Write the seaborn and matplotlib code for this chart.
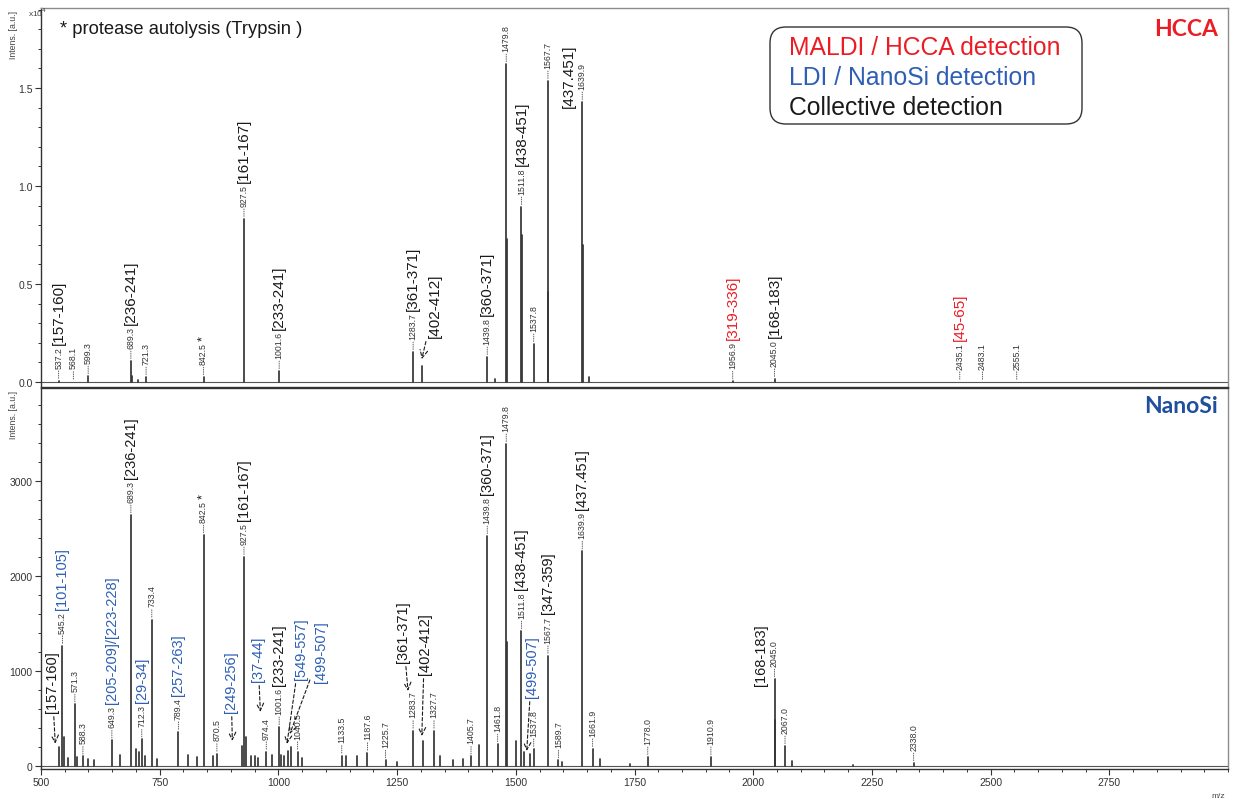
import numpy as np
import pandas as pd
import matplotlib.pyplot as plt
import seaborn as sns
from matplotlib import font_manager
from matplotlib.patches import FancyBboxPatch
from matplotlib.transforms import IdentityTransform
from matplotlib.ticker import MultipleLocator

# --- peak lists (m/z, intensity) ---
hcca_mz = [537.2, 568.1, 599.3, 689.3, 692.0, 705.0, 721.3, 842.5, 927.5, 1001.6,
           1283.7, 1302.0, 1439.8, 1456.0, 1479.8, 1480.8, 1511.8, 1512.8, 1537.8,
           1567.7, 1568.7, 1639.9, 1640.9, 1654.0, 1956.9, 2045.0, 2435.1, 2483.1, 2555.1]
hcca_int = [60, 25, 300, 1070, 300, 120, 250, 250, 8320, 560,
            1530, 820, 1275, 150, 16220, 7300, 8930, 7500, 1940,
            15360, 4600, 14290, 7000, 255, 40, 160, 15, 15, 15]

nano_mz = [538.0, 545.2, 549.0, 556.0, 571.3, 575.0, 588.3, 600.0, 612.0, 649.3, 666.0,
           689.3, 701.0, 706.0, 712.3, 718.0, 733.4, 745.0, 789.4, 810.0, 828.0, 842.5,
           862.0, 870.5, 923.0, 927.5, 931.0, 943.0, 950.0, 958.0, 974.4, 986.0, 1001.6,
           1006.0, 1012.0, 1020.0, 1026.0, 1040.5, 1050.0, 1133.5, 1142.0, 1165.0, 1187.6,
           1225.7, 1250.0, 1283.7, 1304.0, 1327.7, 1340.0, 1367.0, 1389.0, 1405.7, 1422.0,
           1439.8, 1461.8, 1479.8, 1480.8, 1499.4, 1511.8, 1517.0, 1529.5, 1537.8, 1567.7,
           1589.7, 1597.0, 1639.9, 1661.9, 1677.0, 1740.0, 1778.0, 1910.9, 2045.0, 2046.0,
           2067.0, 2082.0, 2210.0, 2338.0]
nano_int = [200, 1266, 300, 80, 650, 90, 100, 70, 60, 270, 120,
            2640, 180, 150, 280, 110, 1540, 70, 360, 120, 90, 2430,
            100, 130, 210, 2200, 300, 110, 100, 80, 150, 120, 410,
            120, 100, 160, 200, 150, 80, 110, 100, 110, 140,
            60, 40, 372, 266, 372, 108, 60, 70, 100, 220,
            2420, 230, 3390, 1300, 266, 1420, 150, 130, 180, 1160,
            60, 40, 2260, 180, 70, 20, 95, 95, 915, 480,
            210, 50, 10, 30]

# labelled peaks (small rotated m/z labels)
hcca_marked = [537.2, 568.1, 599.3, 689.3, 721.3, 842.5, 927.5, 1001.6, 1283.7, 1439.8,
               1479.8, 1511.8, 1537.8, 1567.7, 1639.9, 1956.9, 2045.0, 2435.1, 2483.1, 2555.1]
nano_marked = [545.2, 571.3, 588.3, 649.3, 689.3, 712.3, 733.4, 789.4, 842.5, 870.5, 927.5,
               974.4, 1001.6, 1040.5, 1133.5, 1187.6, 1225.7, 1283.7, 1327.7, 1405.7, 1439.8,
               1461.8, 1479.8, 1511.8, 1537.8, 1567.7, 1589.7, 1639.9, 1661.9, 1778.0, 1910.9,
               2045.0, 2067.0, 2338.0]
nano_mark_h = {974.4: 150, 1040.5: 150, 1133.5: 110, 1187.6: 140, 1225.7: 60, 1405.7: 100,
               1589.7: 60, 1778.0: 95, 1910.9: 95, 2338.0: 30, 870.5: 130, 588.3: 100}

RED = '#ec1c24'
BLUE = '#2e5fb4'
K = '#1a1a1a'

# fragment labels sitting on top of the m/z label
hcca_frag = {537.2: ('[157-160]', K), 689.3: ('[236-241]', K), 842.5: ('*', K),
             927.5: ('[161-167]', K), 1001.6: ('[233-241]', K), 1283.7: ('[361-371]', K),
             1439.8: ('[360-371]', K), 1511.8: ('[438-451]', K), 1956.9: ('[319-336]', RED),
             2045.0: ('[168-183]', K), 2435.1: ('[45-65]', RED)}
nano_frag = {545.2: ('[101-105]', BLUE), 649.3: ('[205-209]/[223-228]', BLUE),
             689.3: ('[236-241]', K), 712.3: ('[29-34]', BLUE), 789.4: ('[257-263]', BLUE),
             842.5: ('*', K), 927.5: ('[161-167]', K), 1001.6: ('[233-241]', K),
             1439.8: ('[360-371]', K), 1511.8: ('[438-451]', K), 1567.7: ('[347-359]', K),
             1639.9: ('[437.451]', K)}
# fragment labels beside the peak
hcca_side = {1639.9: '[437.451]'}
nano_side = {2045.0: '[168-183]'}
# fragment labels with a dashed arrow: text, colour, text anchor, arrow tip
hcca_arrows = [('[402-412]', K, (1329, 2300), (1302, 1170))]
nano_arrows = [('[157-160]', K, (523, 568), (530, 235)),
               ('[249-256]', BLUE, (900, 568), (903, 265)),
               ('[37-44]', BLUE, (957, 895), (962, 570)),
               ('[549-557]', BLUE, (1047, 916), (1018, 232)),
               ('[499-507]', BLUE, (1089, 884), (1024, 337)),
               ('[361-371]', K, (1262, 1095), (1273, 790)),
               ('[402-412]', K, (1308, 968), (1302, 316)),
               ('[499-507]', BLUE, (1534, 726), (1523, 158))]

sns.set_style('ticks')
names = {f.name for f in font_manager.fontManager.ttflist}
narrow = 'Liberation Sans Narrow' if 'Liberation Sans Narrow' in names else 'Liberation Sans'
plt.rcParams['font.family'] = ['Liberation Sans', 'DejaVu Sans']

W, H = 1239, 803
fig = plt.figure(figsize=(W / 100, H / 100), dpi=100)
ax1 = fig.add_axes([41 / W, 1 - 388 / H, 1187 / W, 379 / H])
ax2 = fig.add_axes([41 / W, 1 - 770 / H, 1187 / W, 381 / H])


def draw_spectrum(ax, mz, inten):
    rows = []
    for i, (m, h) in enumerate(zip(mz, inten)):
        rows.append((m, 0, i))
        rows.append((m, h, i))
    df = pd.DataFrame(rows, columns=['mz', 'intensity', 'peak'])
    sns.lineplot(data=df, x='mz', y='intensity', units='peak', estimator=None,
                 sort=False, color='#353535', lw=1.25, ax=ax, legend=False)
    ax.axhline(0, color='#555555', lw=0.8, zorder=1)


def mass_label(ax, m, h):
    return ax.annotate(f'{m:.1f}', xy=(m, h), xytext=(0, 9.5), textcoords='offset points',
                       rotation=90, ha='center', va='bottom', fontsize=6.3,
                       family=[narrow, 'DejaVu Sans'], color='#333333',
                       arrowprops=dict(arrowstyle='-', linestyle=':', lw=0.6,
                                       color='#444444', shrinkA=0, shrinkB=1.5))


def label_panel(ax, mz, inten, marked, frags, sides, arrows, fsz, extra_h=None):
    lookup = dict(zip(mz, inten))
    if extra_h:
        lookup.update({k: v for k, v in extra_h.items() if k not in lookup})
    for m in marked:
        h = lookup[m]
        t = mass_label(ax, m, h)
        if m in frags:
            txt, col = frags[m]
            ax.annotate(txt, xy=(0.5, 1.0), xycoords=t, xytext=(0, 1.5),
                        textcoords='offset points', rotation=90, ha='center', va='bottom',
                        fontsize=fsz if txt != '*' else 9, color=col)
        if m in sides:
            ax.annotate(sides[m], xy=(m, h), xytext=(-9.5, -4), textcoords='offset points',
                        rotation=90, ha='center', va='bottom', fontsize=fsz, color=K)
    for txt, col, pos, tip in arrows:
        ax.annotate(txt, xy=tip, xytext=pos, rotation=90, ha='center', va='bottom',
                    fontsize=fsz, color=col,
                    arrowprops=dict(arrowstyle='->,head_length=0.5,head_width=0.25',
                                    linestyle=(0, (3, 2)), lw=0.8, color=K,
                                    shrinkA=1, shrinkB=0))


draw_spectrum(ax1, hcca_mz, hcca_int)
draw_spectrum(ax2, nano_mz, nano_int)
label_panel(ax1, hcca_mz, hcca_int, hcca_marked, hcca_frag, hcca_side, hcca_arrows, 11)
label_panel(ax2, nano_mz, nano_int, nano_marked, nano_frag, nano_side, nano_arrows, 10.5,
            nano_mark_h)

for ax in (ax1, ax2):
    ax.set_xlim(500, 3000)
    ax.set_xlabel('')
    ax.set_ylabel('')
    ax.xaxis.set_major_locator(MultipleLocator(250))
    ax.xaxis.set_minor_locator(MultipleLocator(50))
    ax.tick_params(which='major', length=4, width=0.8, color='#333333', labelsize=7.5,
                   labelcolor='#333333', pad=2)
    ax.tick_params(which='minor', length=2.5, width=0.7, color='#333333')
    for s in ax.spines.values():
        s.set_color('#333333')
        s.set_linewidth(1.0)
        s.set_visible(True)

ax1.set_ylim(-255, 19080)
ax1.set_yticks([0, 5000, 10000, 15000])
ax1.set_yticklabels(['0.0', '0.5', '1.0', '1.5'], family=[narrow, 'DejaVu Sans'])
ax1.yaxis.set_minor_locator(MultipleLocator(1000))
ax1.tick_params(axis='x', which='both', bottom=False, labelbottom=False)
ax1.spines['top'].set_color('#8c8c8c')
ax1.spines['right'].set_color('#8c8c8c')

ax2.set_ylim(-32, 3979)
ax2.set_yticks([0, 1000, 2000, 3000])
ax2.set_yticklabels(['0', '1000', '2000', '3000'], family=[narrow, 'DejaVu Sans'])
ax2.yaxis.set_minor_locator(MultipleLocator(200))
ax2.set_xticks(np.arange(500, 3000, 250))
ax2.set_xticklabels([str(v) for v in range(500, 3000, 250)], family=[narrow, 'DejaVu Sans'])
ax2.spines['right'].set_color('#8c8c8c')


def ftext(x, y, s, **kw):
    fig.text(x / W, 1 - y / H, s, **kw)


ftext(13, 11, 'Intens. [a.u.]', rotation=90, ha='center', va='top', fontsize=6.3,
      color='#444444', family=[narrow, 'DejaVu Sans'])
ftext(13, 391, 'Intens. [a.u.]', rotation=90, ha='center', va='top', fontsize=6.3,
      color='#444444', family=[narrow, 'DejaVu Sans'])
ftext(28, 13, r'x10$^4$', ha='left', va='center', fontsize=6, color='#444444')
ftext(1218, 797, 'm/z', ha='center', va='center', fontsize=6, color='#444444',
      family=[narrow, 'DejaVu Sans'])

ftext(60, 29, '* protease autolysis (Trypsin )', ha='left', va='center', fontsize=13.2,
      color=K)

box = FancyBboxPatch((770, H - 125), 312, 97, boxstyle='round,pad=0,rounding_size=16',
                     transform=IdentityTransform(), fc='white', ec='#333333', lw=1.0)
fig.add_artist(box)
ftext(789, 48, 'MALDI / HCCA detection', ha='left', va='center', fontsize=17.8, color=RED)
ftext(789, 78, 'LDI / NanoSi detection', ha='left', va='center', fontsize=17.8, color=BLUE)
ftext(789, 108, 'Collective detection', ha='left', va='center', fontsize=17.8, color=K)

ftext(1218, 29, 'HCCA', ha='right', va='center', fontsize=16.5, fontweight='bold',
      color=RED, family=['Lato', 'DejaVu Sans'])
ftext(1218, 407, 'NanoSi', ha='right', va='center', fontsize=16.5, fontweight='bold',
      color='#1f4f9d', family=['Lato', 'DejaVu Sans'])

fig.savefig('out.png', dpi=100)
